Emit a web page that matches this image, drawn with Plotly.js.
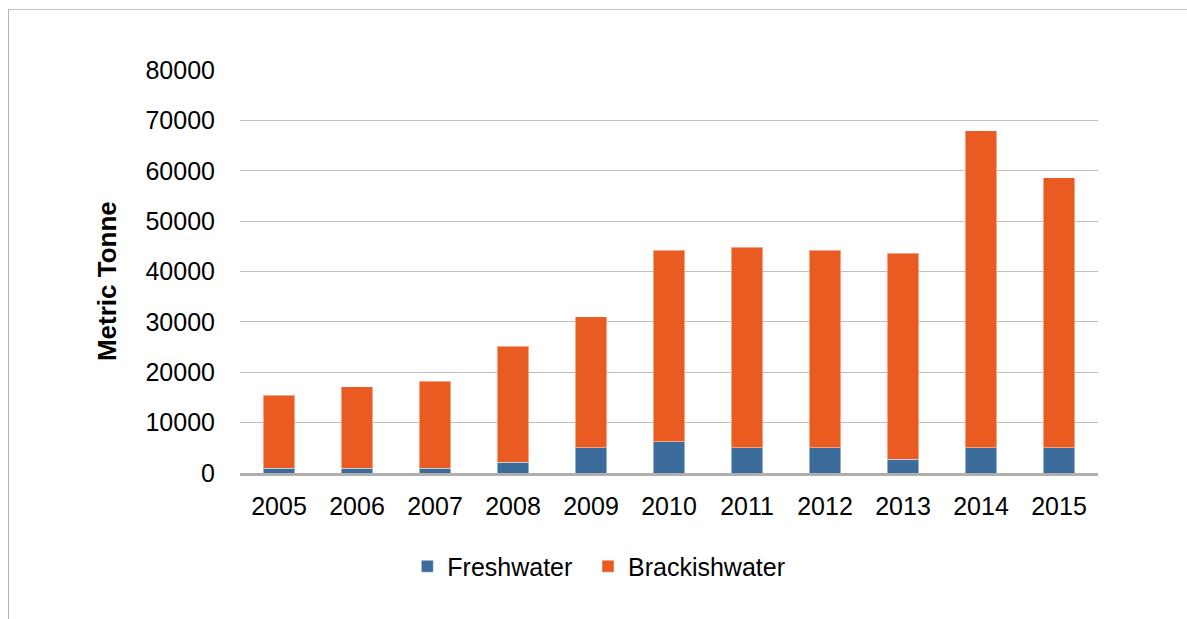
<!DOCTYPE html>
<html>
<head>
<meta charset="utf-8">
<script src="https://cdn.plot.ly/plotly-3.0.1.min.js"></script>
<style>
  html, body { margin: 0; padding: 0; background: #ffffff; }
  #wrap { position: relative; width: 1187px; height: 619px; overflow: hidden; }
  #frame { position: absolute; left: 8px; top: 9px; width: 1400px; height: 800px;
           border-top: 1px solid #c4c4c4; border-left: 1px solid #b4b4b4; pointer-events: none; z-index: 5; }
  #chart { position: absolute; left: 0; top: 0; width: 1187px; height: 619px; }
</style>
</head>
<body>
<div id="wrap">
  <div id="chart"></div>
  <div id="frame"></div>
</div>
<script>
const years = ['2005','2006','2007','2008','2009','2010','2011','2012','2013','2014','2015'];
const freshwater = [900, 900, 900, 2100, 5000, 6200, 5000, 5000, 2700, 5000, 5000];
const brackishwater = [14500, 16200, 17300, 23100, 26000, 38000, 39800, 39200, 40900, 62900, 53600];
const yTickVals = [0, 10000, 20000, 30000, 40000, 50000, 60000, 70000, 80000];
const yTitle = 'Metric Tonne';

const font = 'Liberation Sans, Arial, sans-serif';

const traces = [
  {
    type: 'bar', name: 'Freshwater', x: years, y: freshwater, legend: 'legend',
    marker: { color: '#3B6C9B', line: { color: 'rgba(255,255,255,0.45)', width: 1 } },
    hoverinfo: 'x+y+name'
  },
  {
    type: 'bar', name: 'Brackishwater', x: years, y: brackishwater, legend: 'legend2',
    marker: { color: '#EA5B21', line: { color: 'rgba(255,255,255,0.45)', width: 1 } },
    hoverinfo: 'x+y+name'
  }
];

const legendBase = {
  orientation: 'h',
  xanchor: 'left',
  y: -0.232, yanchor: 'middle',
  font: { family: font, size: 25, color: '#000' },
  bgcolor: 'rgba(0,0,0,0)'
};

const layout = {
  width: 1187, height: 619,
  barmode: 'stack',
  bargap: 0.59,
  margin: { l: 240, r: 89, t: 70, b: 146 },
  paper_bgcolor: '#ffffff',
  plot_bgcolor: '#ffffff',
  font: { family: font, size: 25, color: '#000000' },
  xaxis: {
    type: 'category',
    showgrid: false,
    showline: true, linecolor: '#b0b0b0', linewidth: 3,
    ticks: '', ticklabelstandoff: 9,
    tickfont: { family: font, size: 25, color: '#000' },
    fixedrange: true
  },
  yaxis: {
    range: [0, 80000],
    tickvals: yTickVals,
    ticktext: yTickVals.map(v => String(v)),
    showgrid: true, gridcolor: '#bdbdbd', gridwidth: 1,
    zeroline: false, showline: false,
    ticks: '', ticklabelstandoff: 24,
    tickfont: { family: font, size: 25, color: '#000' },
    automargin: false,
    fixedrange: true
  },
  annotations: [{
    text: yTitle, textangle: -90, showarrow: false,
    xref: 'paper', yref: 'paper',
    x: (106.5 - 240) / 858, xanchor: 'center',
    y: 0.475, yanchor: 'middle',
    font: { family: font, size: 26, color: '#000', weight: 'bold' }
  }],
  showlegend: true,
  legend: Object.assign({}, legendBase, { x: 0.195 }),
  legend2: Object.assign({}, legendBase, { x: 0.4056 })
};

Plotly.newPlot('chart', traces, layout, { displayModeBar: false });
</script>
</body>
</html>
